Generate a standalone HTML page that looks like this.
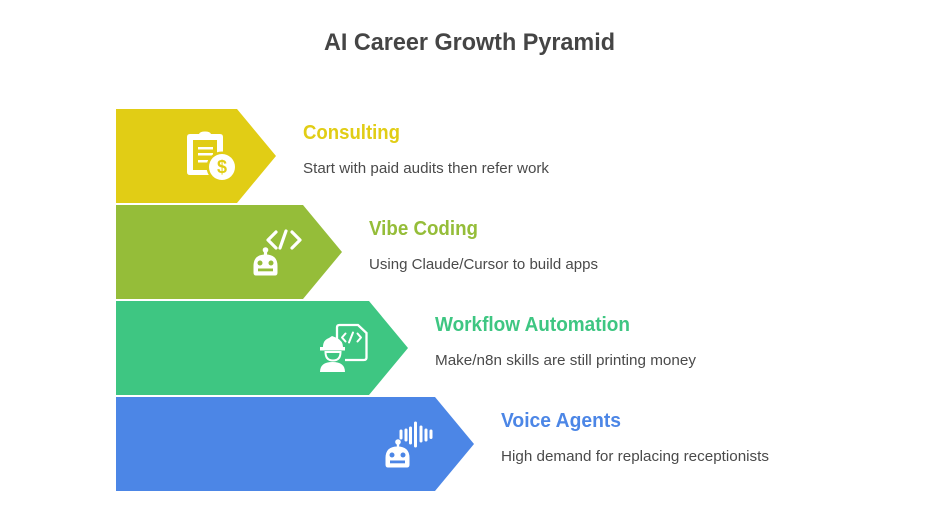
<!DOCTYPE html>
<html>
<head>
<meta charset="utf-8">
<style>
html,body{margin:0;padding:0;background:#fff;width:939px;height:528px;overflow:hidden}
svg{display:block}
text{font-family:"Liberation Sans",sans-serif}
.h{font-size:20px;font-weight:bold}
.d{font-size:15px;fill:#4a4a4a}
</style>
</head>
<body>
<svg width="939" height="528" viewBox="0 0 939 528" xmlns="http://www.w3.org/2000/svg">
<rect width="939" height="528" fill="#fff"/>
<text x="324" y="50" font-size="24" font-weight="bold" fill="#454545" textLength="291" lengthAdjust="spacingAndGlyphs">AI Career Growth Pyramid</text>

<polygon points="116,109 237,109 276,156 237,203 116,203" fill="#e1cd15"/>
<polygon points="116,205 303,205 342,252 303,299 116,299" fill="#95bd39"/>
<polygon points="116,301 369,301 408,348 369,395 116,395" fill="#3ec682"/>
<polygon points="116,397 435,397 474,444 435,491 116,491" fill="#4c86e6"/>

<!-- Consulting icon -->
<g>
<path d="M190 134H199Q200 131.500 205 131.500Q210 131.500 211 134H220Q223 134 223 137V175H190Q187 175 187 172V137Q187 134 190 134Z" fill="#fff"/>
<rect x="193" y="140" width="24" height="30" fill="#e1cd15"/>
<rect x="198" y="147" width="15" height="2.500" fill="#fff"/>
<rect x="198" y="153" width="15" height="2.500" fill="#fff"/>
<rect x="198" y="160" width="10" height="2.500" fill="#fff"/>
<circle cx="222" cy="167" r="15.500" fill="#e1cd15"/>
<circle cx="222" cy="167" r="13" fill="#fff"/>
<text x="222" y="173" font-size="18" font-weight="bold" fill="#e1cd15" text-anchor="middle">$</text>
</g>

<!-- Vibe coding icon -->
<g>
<g fill="none" stroke="#fff" stroke-width="3.200" stroke-linecap="round" stroke-linejoin="round">
<path d="M276 232L268 240L276 248"/>
<path d="M280 248L286 231"/>
<path d="M292 232L300 240L292 248"/>
<path d="M265.500 250V256"/>
</g>
<circle cx="265.500" cy="250" r="2.800" fill="#fff"/>
<path d="M256 275Q254 275 254 272.500V266Q254 255 265.500 255Q277 255 277 266V272.500Q277 275 275 275Z" fill="#fff" stroke="#fff" stroke-width="1"/>
<circle cx="260" cy="263" r="2.500" fill="#95bd39"/>
<circle cx="271" cy="263" r="2.500" fill="#95bd39"/>
<rect x="258" y="268.500" width="15" height="2.800" fill="#95bd39"/>
</g>

<!-- Workflow icon -->
<g>
<path d="M337 341V327.500Q337 325 339.500 325H358L366.500 333V357.500Q366.500 360 364 360H345" fill="none" stroke="#fff" stroke-width="2.300"/>
<g fill="none" stroke="#fff" stroke-width="2" stroke-linecap="round" stroke-linejoin="round">
<path d="M345.500 333.500L342 337.500L345.500 341.500"/>
<path d="M349 342.500L353 332.500"/>
<path d="M357.500 333.500L361 337.500L357.500 341.500"/>
</g>
<path d="M323 347Q323 340 329 338L332 336L337 338Q343 341 343 347H345V350.500H320V347Z" fill="#fff"/>
<path d="M325.500 352H340.500Q340.500 360.500 333 360.500Q325.500 360.500 325.500 352Z" fill="none" stroke="#fff" stroke-width="2"/>
<path d="M320 372Q320 362 332.500 362Q345 362 345 372Z" fill="#fff"/>
</g>

<!-- Voice icon -->
<g>
<g fill="none" stroke="#fff" stroke-width="3" stroke-linecap="round">
<path d="M401 431V438"/>
<path d="M406 430V440"/>
<path d="M410.500 428V443"/>
<path d="M415.500 423V446"/>
<path d="M421 427V441"/>
<path d="M426 430V440"/>
<path d="M431 431V437.500"/>
<path d="M398 442V448" stroke-width="2.400"/>
</g>
<circle cx="398" cy="442" r="2.800" fill="#fff"/>
<path d="M388 467Q386 467 386 464.500V458Q386 447 397.500 447Q409 447 409 458V464.500Q409 467 407 467Z" fill="#fff" stroke="#fff" stroke-width="1"/>
<circle cx="392" cy="455" r="2.500" fill="#4c86e6"/>
<circle cx="403" cy="455" r="2.500" fill="#4c86e6"/>
<rect x="390" y="460.500" width="15" height="2.800" fill="#4c86e6"/>
</g>

<text class="h" x="303" y="139" fill="#e1cd15" textLength="97" lengthAdjust="spacingAndGlyphs">Consulting</text>
<text class="d" x="303" y="173" textLength="246" lengthAdjust="spacingAndGlyphs">Start with paid audits then refer work</text>
<text class="h" x="369" y="235" fill="#95bd39" textLength="109" lengthAdjust="spacingAndGlyphs">Vibe Coding</text>
<text class="d" x="369" y="269" textLength="229" lengthAdjust="spacingAndGlyphs">Using Claude/Cursor to build apps</text>
<text class="h" x="435" y="331" fill="#3ec682" textLength="195" lengthAdjust="spacingAndGlyphs">Workflow Automation</text>
<text class="d" x="435" y="365" textLength="261" lengthAdjust="spacingAndGlyphs">Make/n8n skills are still printing money</text>
<text class="h" x="501" y="427" fill="#4c86e6" textLength="120" lengthAdjust="spacingAndGlyphs">Voice Agents</text>
<text class="d" x="501" y="461" textLength="268" lengthAdjust="spacingAndGlyphs">High demand for replacing receptionists</text>
</svg>
</body>
</html>
